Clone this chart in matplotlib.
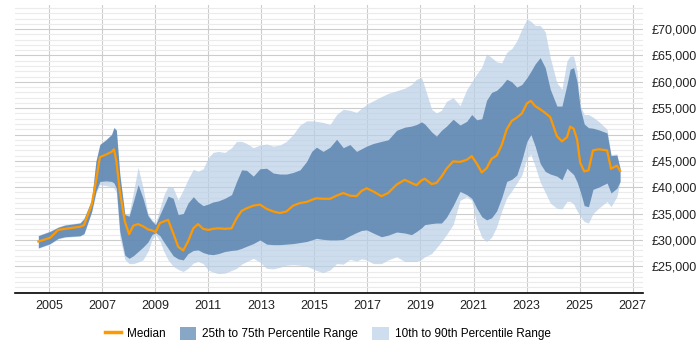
import numpy as np
import matplotlib
matplotlib.use("Agg")
import matplotlib.pyplot as plt
from matplotlib.ticker import FuncFormatter, MultipleLocator
from matplotlib.patches import Patch
from matplotlib.lines import Line2D

plt.rcParams['font.family'] = ['Liberation Sans', 'DejaVu Sans']

# decimal years
years = [2004.60, 2005.04, 2005.35, 2005.60, 2006.17, 2006.32, 2006.61, 2006.77, 2006.92, 2007.15,
         2007.36, 2007.45, 2007.54, 2007.67, 2007.86, 2008.02, 2008.18, 2008.36, 2008.54, 2008.73,
         2008.88, 2009.02, 2009.18, 2009.33, 2009.49, 2009.68, 2009.87, 2010.06, 2010.24, 2010.44,
         2010.62, 2010.81, 2011.00, 2011.18, 2011.38, 2011.63, 2011.88, 2012.07, 2012.26, 2012.45,
         2012.70, 2012.95, 2013.20, 2013.45, 2013.70, 2013.95, 2014.20, 2014.46, 2014.71, 2014.90,
         2015.08, 2015.33, 2015.59, 2015.84, 2016.09, 2016.34, 2016.59, 2016.78, 2016.97, 2017.22,
         2017.53, 2017.78, 2018.10, 2018.41, 2018.66, 2018.85, 2019.04, 2019.16, 2019.42, 2019.60,
         2019.79, 2019.98, 2020.23, 2020.49, 2020.74, 2020.93, 2021.12, 2021.31, 2021.49, 2021.68,
         2021.87, 2022.06, 2022.25, 2022.44, 2022.63, 2022.82, 2023.01, 2023.16, 2023.32, 2023.51,
         2023.70, 2023.89, 2024.14, 2024.33, 2024.52, 2024.64, 2024.77, 2024.90, 2025.02, 2025.17,
         2025.33, 2025.50, 2025.71, 2026.03, 2026.18, 2026.40, 2026.52]

# values in £k
median = [29.7, 30.4, 31.9, 32.1, 32.5, 32.8, 36.7, 41.1, 45.7, 46.2,
          46.7, 47.2, 45.0, 39.2, 33.5, 31.1, 32.7, 33.0, 32.6, 32.0,
          31.8, 31.5, 33.2, 33.5, 33.8, 31.3, 28.7, 28.0, 29.7, 32.2,
          33.0, 32.1, 31.9, 32.1, 32.2, 32.1, 32.2, 34.1, 35.5, 36.0,
          36.5, 36.7, 35.9, 35.4, 35.1, 35.4, 36.5, 37.0, 37.2, 37.6,
          37.9, 37.8, 37.8, 38.4, 38.9, 38.4, 38.3, 39.3, 39.8, 39.2,
          38.3, 38.9, 40.5, 41.4, 40.8, 40.4, 41.3, 41.6, 40.6, 40.8,
          42.0, 43.5, 44.9, 44.8, 45.2, 45.9, 44.5, 42.8, 43.6, 45.4,
          46.0, 48.0, 51.0, 52.6, 53.2, 54.0, 55.9, 56.4, 55.4, 54.8,
          54.1, 53.3, 49.7, 48.7, 49.5, 51.5, 51.1, 49.1, 44.6, 43.0,
          43.2, 47.0, 47.2, 47.0, 43.5, 44.1, 43.1]
p25 = [28.5, 29.3, 30.3, 30.6, 30.8, 31.2, 35.4, 39.2, 41.1, 41.2,
       41.1, 40.8, 39.8, 31.6, 27.1, 26.5, 27.0, 27.8, 28.6, 29.6,
       31.0, 31.4, 30.8, 29.6, 28.4, 27.0, 26.4, 26.2, 27.4, 28.0,
       28.1, 27.6, 27.3, 27.2, 27.4, 27.8, 28.0, 28.1, 28.4, 28.8,
       29.3, 30.0, 29.2, 29.1, 29.1, 29.2, 29.3, 29.5, 29.7, 30.0,
       30.3, 30.1, 30.0, 30.0, 30.1, 30.8, 31.4, 31.8, 31.9, 31.3,
       30.6, 30.9, 31.5, 31.3, 31.0, 31.6, 32.3, 32.9, 33.1, 33.2,
       33.2, 34.3, 36.5, 39.2, 38.6, 37.9, 36.0, 34.4, 33.8, 34.2,
       35.5, 38.0, 41.1, 41.5, 42.3, 45.2, 48.7, 50.0, 47.8, 44.5,
       43.0, 42.5, 42.1, 41.4, 43.6, 43.0, 42.4, 41.0, 39.2, 36.5,
       36.3, 39.6, 40.0, 40.8, 38.9, 39.8, 41.1]
p75 = [30.8, 31.6, 32.4, 32.8, 33.2, 34.0, 37.6, 44.9, 48.1, 49.0,
       50.0, 51.3, 50.8, 42.4, 34.8, 34.5, 37.3, 40.5, 38.0, 34.6,
       33.6, 32.9, 34.8, 36.5, 38.3, 37.9, 34.8, 35.0, 37.0, 38.2,
       37.2, 36.5, 36.8, 37.2, 37.4, 37.9, 38.6, 41.1, 43.3, 43.2,
       42.1, 43.5, 43.6, 42.7, 42.5, 42.5, 42.8, 43.3, 44.9, 46.8,
       47.6, 46.8, 47.6, 49.1, 47.5, 48.1, 46.8, 47.3, 47.8, 48.3,
       48.7, 49.0, 50.8, 51.4, 51.6, 51.9, 52.4, 52.0, 50.5, 49.7,
       50.8, 51.6, 52.9, 51.8, 52.5, 53.8, 52.8, 53.0, 56.5, 58.0,
       58.4, 59.3, 60.5, 60.0, 59.0, 59.5, 60.8, 62.0, 63.4, 64.6,
       62.7, 58.6, 55.4, 55.4, 59.5, 62.4, 62.7, 60.0, 55.0, 52.0,
       51.3, 51.2, 50.9, 50.3, 46.0, 46.1, 43.6]
p10 = [28.4, 29.2, 30.2, 30.5, 30.7, 31.1, 35.3, 38.8, 40.5, 40.3,
       40.1, 39.8, 39.0, 30.5, 26.3, 25.5, 25.5, 25.8, 26.2, 27.8,
       30.0, 31.0, 29.8, 27.8, 26.2, 25.0, 24.4, 24.0, 24.6, 25.6,
       25.9, 25.5, 24.3, 23.9, 23.6, 23.7, 24.2, 24.6, 25.4, 25.9,
       26.5, 25.8, 24.6, 24.5, 24.8, 25.2, 25.3, 25.2, 25.0, 24.6,
       24.2, 23.8, 24.3, 25.5, 25.4, 26.3, 26.0, 26.4, 26.2, 25.5,
       25.5, 26.2, 26.8, 25.9, 25.9, 25.9, 26.3, 26.8, 27.4, 28.5,
       29.7, 31.0, 32.9, 37.5, 38.2, 37.5, 33.0, 30.5, 29.7, 30.5,
       32.5, 35.5, 38.0, 39.3, 40.8, 42.3, 45.6, 46.2, 44.0, 41.0,
       39.0, 37.0, 36.0, 35.9, 37.3, 37.3, 36.8, 35.5, 34.5, 33.5,
       33.2, 35.0, 36.0, 37.3, 36.3, 38.2, 41.1]
p90 = [30.9, 31.7, 32.5, 32.9, 33.3, 34.2, 37.7, 45.0, 48.2, 49.1,
       50.1, 51.4, 50.9, 42.5, 35.0, 35.0, 39.0, 43.8, 40.0, 35.0,
       33.8, 33.2, 36.0, 38.5, 40.2, 39.9, 37.6, 39.5, 41.5, 43.4,
       43.0, 43.5, 45.5, 46.6, 46.8, 46.6, 47.5, 48.7, 48.7, 48.3,
       47.5, 48.0, 48.2, 47.8, 48.0, 48.7, 50.0, 51.8, 52.6, 52.6,
       52.5, 52.3, 51.9, 53.8, 54.8, 54.6, 54.2, 55.0, 55.7, 56.4,
       57.2, 57.8, 58.3, 58.8, 59.5, 60.5, 60.8, 59.0, 54.8, 54.1,
       54.6, 56.3, 57.0, 55.5, 58.5, 60.0, 61.5, 62.8, 65.3, 64.6,
       63.8, 63.6, 65.6, 66.3, 67.8, 70.0, 71.9, 71.5, 70.7, 70.7,
       69.5, 64.6, 59.8, 58.6, 64.0, 64.9, 64.9, 62.0, 55.5, 53.8,
       53.8, 53.3, 52.5, 51.0, 46.2, 46.3, 43.6]

x = np.array(years)
k = 1000.0
fig = plt.figure(figsize=(7, 3.5), dpi=100)
ax = fig.add_axes([0.0214, 0.164, 0.897, 0.822])

ax.fill_between(x, np.array(p10) * k, np.array(p90) * k, color='#b8cfe6', alpha=0.7, lw=0, zorder=2)
ax.fill_between(x, np.array(p25) * k, np.array(p75) * k, color='#547ead', alpha=0.8, lw=0, zorder=3)
ax.plot(x, np.array(median) * k, color='#ff9900', lw=1.6, zorder=4)

ax.set_xlim(2003.72, 2027.38)
ax.set_ylim(20000, 74600)
ax.set_xticks(range(2005, 2028, 2))
ax.set_yticks(range(25000, 75000, 5000))
ax.yaxis.set_minor_locator(MultipleLocator(1000))
ax.yaxis.set_major_formatter(FuncFormatter(lambda v, p: '£{:,.0f}'.format(v)))
ax.yaxis.tick_right()
ax.tick_params(axis='y', which='both', length=0, labelsize=9, colors='#222222', pad=6)
ax.tick_params(axis='x', length=0, labelsize=9, colors='#222222', pad=5)
ax.grid(True, which='major', axis='both', color='#cccccc', lw=0.8, zorder=0)
ax.grid(True, which='minor', axis='y', color='#ebebeb', lw=0.8, zorder=0)
ax.set_axisbelow(True)
for s in ['top', 'left', 'right']:
    ax.spines[s].set_visible(False)
ax.spines['bottom'].set_color('#000000')
ax.spines['bottom'].set_linewidth(1.2)

handles = [Line2D([], [], color='#ff9900', lw=2.5),
           Patch(facecolor='#88a6c6', edgecolor='none'),
           Patch(facecolor='#cfdeee', edgecolor='none')]
labels = ['Median', '25th to 75th Percentile Range', '10th to 90th Percentile Range']
fig.legend(handles, labels, loc='center', bbox_to_anchor=(0.468, 0.047), ncol=3,
           frameon=False, fontsize=8.5, handlelength=1.4, handleheight=1.3, columnspacing=1.2,
           handletextpad=0.5)

fig.savefig('out.png', dpi=100)
